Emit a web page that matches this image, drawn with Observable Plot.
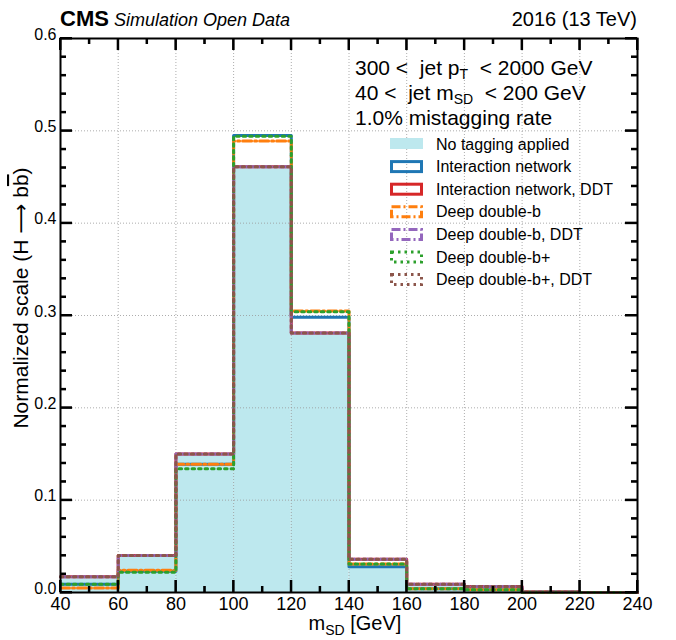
<!DOCTYPE html>
<html><head><meta charset="utf-8">
<script src="https://cdn.jsdelivr.net/npm/d3@7"></script>
<script src="https://cdn.jsdelivr.net/npm/@observablehq/plot@0.6"></script>
<style>body{margin:0;background:#fff} svg{display:block;font-family:"Liberation Sans",Arial,Helvetica,sans-serif}</style>
</head><body><div id="chart"></div>
<script>
// ---- data ----
const binEdges = [40, 60, 80, 100, 120, 140, 160, 180, 200, 220, 240];
const noTagging          = [0.016, 0.039, 0.149, 0.460, 0.280, 0.031, 0.008, 0.005, 0.0003, 0];
const interactionNet     = [0.009, 0.023, 0.139, 0.495, 0.298, 0.028, 0.004, 0.003, 0.0003, 0];
const interactionNetDDT  = [0.017, 0.040, 0.150, 0.461, 0.281, 0.036, 0.009, 0.0065, 0.0005, 0];
const deepDoubleB        = [0.005, 0.024, 0.139, 0.489, 0.305, 0.031, 0.004, 0.003, 0.0003, 0];
const deepDoubleBDDT     = [0.017, 0.040, 0.150, 0.461, 0.281, 0.036, 0.009, 0.0065, 0.0005, 0];
const deepDoubleBPlus    = [0.009, 0.022, 0.134, 0.494, 0.304, 0.031, 0.004, 0.003, 0.0003, 0];
const deepDoubleBPlusDDT = [0.017, 0.040, 0.150, 0.461, 0.281, 0.036, 0.009, 0.0065, 0.0005, 0];

const seriesNames = ["Interaction network", "Interaction network, DDT", "Deep double-b",
  "Deep double-b, DDT", "Deep double-b+", "Deep double-b+, DDT"];
const seriesValues = [interactionNet, interactionNetDDT, deepDoubleB, deepDoubleBDDT, deepDoubleBPlus, deepDoubleBPlusDDT];
const seriesColors = ["#1f77b4", "#d62728", "#ff7f0e", "#9467bd", "#2ca02c", "#8c564b"];
const seriesDash = [null, null, "9,3,2,3", "9,3,2,3", "2.5,4", "2.5,4"];
const fillName = "No tagging applied";
const fillColor = "#bde8ee";

const xTicks = [40, 60, 80, 100, 120, 140, 160, 180, 200, 220, 240];
const xMinor = [50, 70, 90, 110, 130, 150, 170, 190, 210, 230];
const yTicks = [0, 0.1, 0.2, 0.3, 0.4, 0.5, 0.6];
const yMinor = [0.02, 0.04, 0.06, 0.08, 0.12, 0.14, 0.16, 0.18, 0.22, 0.24, 0.26, 0.28,
  0.32, 0.34, 0.36, 0.38, 0.42, 0.44, 0.46, 0.48, 0.52, 0.54, 0.56, 0.58];

// ---- helpers ----
const bins = noTagging.map((v, i) => ({lo: binEdges[i], hi: binEdges[i + 1], v}));
const stepPts = vals => binEdges.map((e, i) => ({x: e, y: vals[Math.min(i, vals.length - 1)]}));
const font = "Liberation Sans, Arial, Helvetica, sans-serif";

const lineMarks = seriesValues.map((vals, i) =>
  Plot.line(stepPts(vals), {x: "x", y: "y", curve: "step-after", stroke: seriesColors[i],
    strokeWidth: 3, strokeDasharray: seriesDash[i]}));

// inward ticks on the four sides of the frame (zero-length rules extended by negative insets)
const tickMarks = (len, xs, ys) => [
  Plot.ruleX(xs, {x: d => d, y1: 0, y2: 0, insetTop: -len, stroke: "black", strokeWidth: 2}),
  Plot.ruleX(xs, {x: d => d, y1: 0.6, y2: 0.6, insetBottom: -len, stroke: "black", strokeWidth: 2}),
  Plot.ruleY(ys, {y: d => d, x1: 40, x2: 40, insetRight: -len, stroke: "black", strokeWidth: 2}),
  Plot.ruleY(ys, {y: d => d, x1: 240, x2: 240, insetLeft: -len, stroke: "black", strokeWidth: 2})
];

const plot = Plot.plot({
  width: 676, height: 640,
  marginLeft: 60, marginRight: 39, marginTop: 38, marginBottom: 48,
  x: {domain: [40, 240]},
  y: {domain: [0, 0.6]},
  marks: [
    Plot.rectY(bins, {x1: "lo", x2: "hi", y: "v", fill: fillColor}),
    Plot.gridX(xTicks.slice(1, -1), {stroke: "#999", strokeOpacity: 0.8, strokeDasharray: "1,2"}),
    Plot.gridY(yTicks.slice(1, -1), {stroke: "#999", strokeOpacity: 0.8, strokeDasharray: "1,2"}),
    ...lineMarks,
    Plot.axisX(xTicks, {anchor: "bottom", tickSize: 0, tickPadding: 5, fontSize: 18, label: null}),
    Plot.axisY(yTicks, {anchor: "left", tickSize: 0, tickPadding: 4, dy: -4, fontSize: 16, tickFormat: d3.format(".1f"), label: null}),
    ...tickMarks(12, xTicks, yTicks),
    ...tickMarks(6, xMinor, yMinor),
    Plot.frame({strokeWidth: 2})
  ]
});
document.getElementById("chart").appendChild(plot);

// ---- backup tick layer drawn with the plot's own scales (same positions as the rules) ----
const svg = d3.select(plot);
const sx = plot.scale("x"), sy = plot.scale("y");
const fx0 = sx.apply(40), fx1 = sx.apply(240), fy0 = sy.apply(0), fy1 = sy.apply(0.6);
const tickLayer = svg.append("g");
const tickLine = (a, b, c, d) => tickLayer.append("line").attr("x1", a).attr("y1", b).attr("x2", c).attr("y2", d)
  .attr("stroke", "black").attr("stroke-width", 2);
[[xTicks, 12], [xMinor, 6]].forEach(([vals, len]) => vals.forEach(v => {
  const x = sx.apply(v);
  tickLine(x, fy0, x, fy0 - len);
  tickLine(x, fy1, x, fy1 + len);
}));
[[yTicks, 12], [yMinor, 6]].forEach(([vals, len]) => vals.forEach(v => {
  const y = sy.apply(v);
  tickLine(fx0, y, fx0 + len, y);
  tickLine(fx1, y, fx1 - len, y);
}));

// ---- annotations ----
const g = svg.append("g").attr("font-family", font).attr("fill", "#000").attr("text-anchor", "start");

// header
const h = g.append("text").attr("x", 60).attr("y", 26).attr("text-anchor", "start");
h.append("tspan").attr("font-weight", "bold").attr("font-size", 22).text("CMS");
h.append("tspan").attr("font-style", "italic").attr("font-size", 18).attr("dx", 5).text("Simulation Open Data");
g.append("text").attr("x", 637).attr("y", 26).attr("text-anchor", "end").attr("font-size", 20).text("2016 (13 TeV)");

// cut text
const t1 = g.append("text").attr("x", 355).attr("y", 75).attr("font-size", 21);
t1.append("tspan").text("300 <  jet p");
t1.append("tspan").attr("font-size", 14).attr("dy", 4).text("T");
t1.append("tspan").attr("dy", -4).text("  < 2000 GeV");
const t2 = g.append("text").attr("x", 355).attr("y", 100).attr("font-size", 21);
t2.append("tspan").text("40 <  jet m");
t2.append("tspan").attr("font-size", 14).attr("dy", 4).text("SD");
t2.append("tspan").attr("dy", -4).text("  < 200 GeV");
g.append("text").attr("x", 355).attr("y", 125).attr("font-size", 21).text("1.0% mistagging rate");

// legend
const legY0 = 144, legDy = 22.6;
const leg = g.append("g");
leg.append("rect").attr("x", 390).attr("y", legY0 - 6).attr("width", 33).attr("height", 11).attr("fill", fillColor);
leg.append("text").attr("x", 436).attr("y", legY0 + 5.5).attr("font-size", 16).text(fillName);
seriesNames.forEach((n, i) => {
  const y = legY0 + (i + 1) * legDy;
  leg.append("rect").attr("x", 391.5).attr("y", y - 5).attr("width", 30).attr("height", 10)
    .attr("fill", "none").attr("stroke", seriesColors[i]).attr("stroke-width", 3)
    .attr("stroke-dasharray", seriesDash[i]);
  leg.append("text").attr("x", 436).attr("y", y + 5.5).attr("font-size", 16).text(n);
});

// axis titles
const xl = g.append("text").attr("x", 355).attr("y", 630).attr("text-anchor", "middle").attr("font-size", 20);
xl.append("tspan").text("m");
xl.append("tspan").attr("font-size", 14).attr("dy", 5).text("SD");
xl.append("tspan").attr("dy", -5).text(" [GeV]");
const yl = g.append("text").attr("transform", "translate(28,298) rotate(-90)").attr("text-anchor", "middle").attr("font-size", 21);
yl.append("tspan").text("Normalized scale (H ");
yl.append("tspan").attr("font-family", "DejaVu Sans").text("\u27F6");
yl.append("tspan").text(" b");
yl.append("tspan").attr("style", "text-decoration: overline").text("b");
yl.append("tspan").text(")");
</script>
</body></html>
